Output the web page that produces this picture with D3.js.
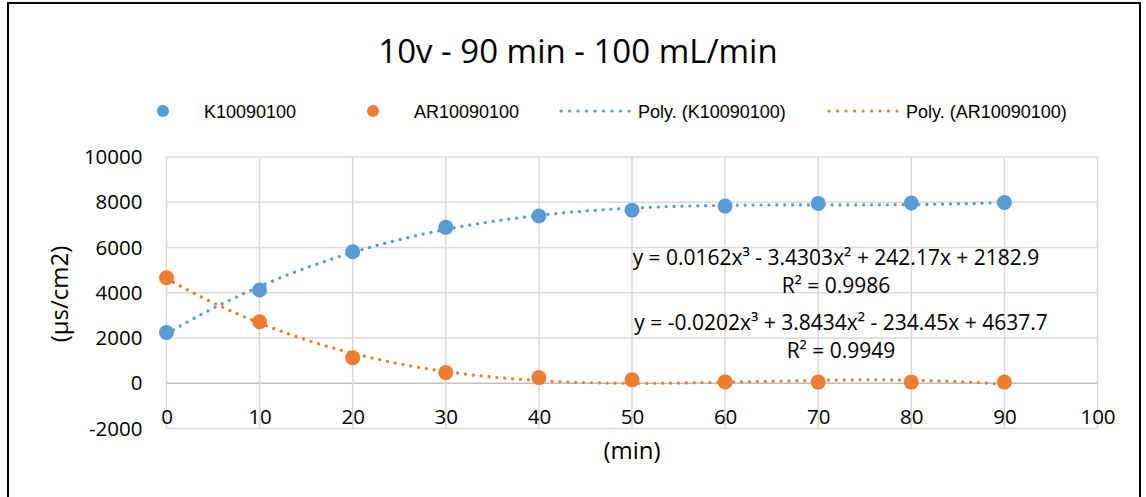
<!DOCTYPE html>
<html>
<head>
<meta charset="utf-8">
<script src="https://cdnjs.cloudflare.com/ajax/libs/d3/7.8.5/d3.min.js"></script>
<style>
  body { margin: 0; background: #fff; }
  .tick text { font-family: "Open Sans", sans-serif; font-size: 20.5px; fill: #000; }
  .legText { font-family: "Liberation Sans", Arial, sans-serif; font-size: 18px; fill: #000; }
</style>
</head>
<body>
<div id="chart"></div>
<script>
var minutes = [0, 10, 20, 30, 40, 50, 60, 70, 80, 90];
var kValues = [2240, 4120, 5810, 6890, 7390, 7650, 7830, 7950, 7970, 7990];
var arValues = [4660, 2720, 1130, 470, 250, 150, 60, 50, 50, 50];

// trendline coefficients as printed on the chart (x^3, x^2, x, c)
var kPoly = [0.0162, -3.4303, 242.17, 2182.9];
var arPoly = [-0.0202, 3.8434, -234.45, 4637.7];
var kEq = ["y = 0.0162x³ - 3.4303x² + 242.17x + 2182.9", "R² = 0.9986"];
var arEq = ["y = -0.0202x³ + 3.8434x² - 234.45x + 4637.7", "R² = 0.9949"];

var xTicks = [0, 10, 20, 30, 40, 50, 60, 70, 80, 90, 100];
var yTicks = [-2000, 0, 2000, 4000, 6000, 8000, 10000];
var legendNames = ["K10090100", "AR10090100", "Poly. (K10090100)", "Poly. (AR10090100)"];

var blue = "#5b9bd5";
var orange = "#ed7d31";
var width = 1146;
var height = 497;

var svg = d3
  .select("#chart")
  .append("svg")
  .attr("width", width)
  .attr("height", height);

svg.append("rect")
  .attr("x", 8).attr("y", 3)
  .attr("width", 1132).attr("height", 510)
  .attr("fill", "#fff")
  .attr("stroke", "#000")
  .attr("stroke-width", 2);

var Xscale = d3.scaleLinear().domain([0, 100]).range([166.5, 1097.5]);
var Yscale = d3.scaleLinear().domain([-2000, 10000]).range([428.5, 157]);

// grid
svg.append("g")
  .selectAll("line")
  .data(yTicks)
  .enter()
  .append("line")
  .attr("x1", Xscale(0)).attr("x2", Xscale(100))
  .attr("y1", function(d) { return Yscale(d); })
  .attr("y2", function(d) { return Yscale(d); })
  .attr("stroke", function(d) { return d === 0 ? "#bfbfbf" : "#d9d9d9"; })
  .attr("stroke-width", 1.5);

svg.append("g")
  .selectAll("line")
  .data(xTicks)
  .enter()
  .append("line")
  .attr("y1", Yscale(10000)).attr("y2", Yscale(-2000))
  .attr("x1", function(d) { return Xscale(d); })
  .attr("x2", function(d) { return Xscale(d); })
  .attr("stroke", "#d9d9d9")
  .attr("stroke-width", 1.5);

var Yaxis = d3.axisLeft(Yscale).tickValues(yTicks).tickSize(0).tickPadding(24).tickFormat(String);
var Xaxis = d3.axisBottom(Xscale).tickValues(xTicks).tickSize(0).tickPadding(26).tickFormat(String);

svg.append("g")
  .attr("transform", "translate(" + Xscale(0) + ",0)")
  .call(Yaxis)
  .call(function(g) { g.select(".domain").remove(); });

svg.append("g")
  .attr("transform", "translate(0," + Yscale(0) + ")")
  .call(Xaxis)
  .call(function(g) { g.select(".domain").remove(); });

// trendlines
function polyAt(c, x) {
  return c[0] * x * x * x + c[1] * x * x + c[2] * x + c[3];
}
var fitX = d3.range(0, 90.01, 0.5);
var line = d3.line()
  .x(function(d) { return Xscale(d[0]); })
  .y(function(d) { return Yscale(d[1]); });

[[kPoly, blue], [arPoly, orange]].forEach(function(p) {
  svg.append("path")
    .attr("d", line(fitX.map(function(x) { return [x, polyAt(p[0], x)]; })))
    .attr("fill", "none")
    .attr("stroke", p[1])
    .attr("stroke-width", 3.2)
    .attr("stroke-linecap", "round")
    .attr("stroke-dasharray", "0.1 7.8");
});

// markers
[[kValues, blue], [arValues, orange]].forEach(function(s) {
  svg.append("g")
    .selectAll("circle")
    .data(s[0])
    .enter()
    .append("circle")
    .attr("cx", function(d, i) { return Xscale(minutes[i]); })
    .attr("cy", function(d) { return Yscale(d); })
    .attr("r", 7.5)
    .attr("fill", s[1]);
});

// equation labels
function eqLabel(lines, cx, y1, y2) {
  svg.append("text")
    .attr("x", cx).attr("y", y1)
    .attr("text-anchor", "middle")
    .style("font-family", "'Open Sans', sans-serif")
    .style("font-size", "21px")
    .text(lines[0]);
  svg.append("text")
    .attr("x", cx).attr("y", y2)
    .attr("text-anchor", "middle")
    .style("font-family", "'Open Sans', sans-serif")
    .style("font-size", "21px")
    .text(lines[1]);
}
eqLabel(kEq, 836, 265, 293);
eqLabel(arEq, 841, 330, 358);

// title + axis titles
svg.append("text")
  .attr("x", 578).attr("y", 63)
  .attr("text-anchor", "middle")
  .style("font-family", "'Open Sans', sans-serif")
  .style("font-size", "33px")
  .text("10v - 90 min - 100 mL/min");

svg.append("text")
  .attr("x", 632).attr("y", 459)
  .attr("text-anchor", "middle")
  .style("font-family", "'Open Sans', sans-serif")
  .style("font-size", "24px")
  .text("(min)");

svg.append("text")
  .attr("transform", "translate(68,294)rotate(-90)")
  .attr("text-anchor", "middle")
  .style("font-family", "'Open Sans', sans-serif")
  .style("font-size", "24px")
  .text("(μs/cm2)");

// legend
var legY = 111;
var leg = svg.append("g");
leg.append("circle").attr("cx", 163).attr("cy", legY).attr("r", 6).attr("fill", blue);
leg.append("circle").attr("cx", 373).attr("cy", legY).attr("r", 6).attr("fill", orange);
leg.append("line").attr("x1", 561).attr("x2", 629).attr("y1", legY).attr("y2", legY)
  .attr("stroke", blue).attr("stroke-width", 3.2).attr("stroke-linecap", "round").attr("stroke-dasharray", "0.1 8.4");
leg.append("line").attr("x1", 829).attr("x2", 897).attr("y1", legY).attr("y2", legY)
  .attr("stroke", orange).attr("stroke-width", 3.2).attr("stroke-linecap", "round").attr("stroke-dasharray", "0.1 8.4");

var legX = [204, 414, 638, 906];
leg.selectAll("text.legText")
  .data(legendNames)
  .enter()
  .append("text")
  .attr("class", "legText")
  .attr("x", function(d, i) { return legX[i]; })
  .attr("y", legY + 6.5)
  .text(function(d) { return d; });
</script>
</body>
</html>
